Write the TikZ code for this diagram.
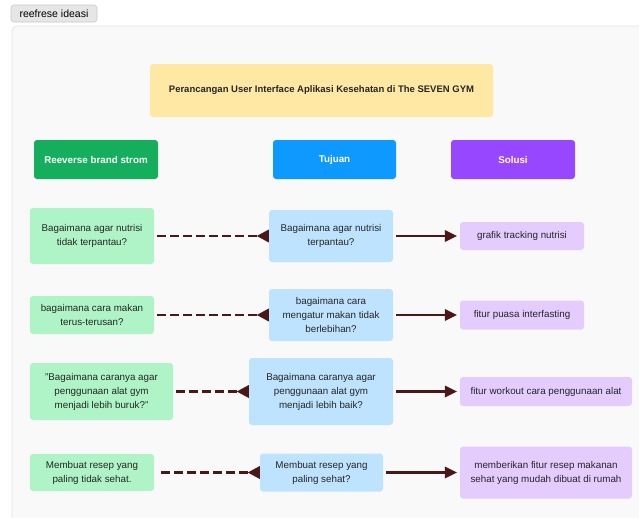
\documentclass[tikz,border=0pt]{standalone}
\usepackage{fontspec}
\setmainfont{Liberation Sans}
\usetikzlibrary{arrows.meta}
\definecolor{panelbg}{HTML}{F9F9F9}
\definecolor{panelline}{HTML}{E3E3E3}
\definecolor{tagbg}{HTML}{E6E6E6}
\definecolor{tagline}{HTML}{C8C8C8}
\definecolor{titlebg}{HTML}{FFE8A3}
\definecolor{hgreen}{HTML}{14AE5C}
\definecolor{hblue}{HTML}{0D99FF}
\definecolor{hpurple}{HTML}{9747FF}
\definecolor{lgreen}{HTML}{AFF4C6}
\definecolor{lblue}{HTML}{BDE3FF}
\definecolor{lpurple}{HTML}{E4CCFF}
\definecolor{txt}{HTML}{262626}
\definecolor{arr}{HTML}{4A1818}
\tikzset{
  card/.style={rounded corners=3pt, align=center, inner sep=0pt, text=txt,
    font=\fontsize{9.8}{14}\selectfont},
  header/.style={card, text=white, font=\fontsize{9.8}{12}\selectfont\bfseries},
  dasharrow/.style={draw=arr, line width=2.5pt, dash pattern=on 8.5pt off 4.5pt,
    {Triangle[reversed,length=12pt,width=13pt,line width=0pt]}-, shorten >=3pt},
  solidarrow/.style={draw=arr, line width=2.3pt,
    -{Triangle[length=12pt,width=12pt,line width=0pt]}, shorten <=3pt, shorten >=3pt}
}
\begin{document}
\begin{tikzpicture}[x=1pt,y=-1pt]
\useasboundingbox (0,0) rectangle (639,517);
\fill[white] (0,0) rectangle (639,517);
% panel
\draw[fill=panelbg, draw=panelline, line width=0.8pt, rounded corners=5pt] (12,26) rectangle (660,540);
% tag
\node[draw=tagline, fill=tagbg, rounded corners=3pt, line width=0.6pt, minimum width=86pt, minimum height=17pt, inner sep=0pt,
  font=\fontsize{10.5}{12}\selectfont, text=black] (tag) at (54,13.5) {reefrese ideasi};
% title
\node[card, fill=titlebg, minimum width=343pt, minimum height=53pt, font=\fontsize{9.5}{12}\selectfont\bfseries] (title) at (321.5,90.5)
  {Perancangan User Interface Aplikasi Kesehatan di The SEVEN GYM};
% headers
\node[header, fill=hgreen, minimum width=124pt, minimum height=39pt] (hg) at (96,159.5) {Reeverse brand strom};
\node[header, fill=hblue, minimum width=123pt, minimum height=39pt] (hb) at (334.5,159.5) {Tujuan};
\node[header, fill=hpurple, minimum width=124pt, minimum height=39pt] (hp) at (513,159.5) {Solusi};
% row 1
\node[card, fill=lgreen, minimum width=124pt, minimum height=56pt] (g1) at (92,236) {Bagaimana agar nutrisi\\tidak terpantau?};
\node[card, fill=lblue, minimum width=124pt, minimum height=52pt] (b1) at (331,236) {Bagaimana agar nutrisi\\terpantau?};
\node[card, fill=lpurple, minimum width=124pt, minimum height=28pt] (p1) at (522,236) {grafik tracking nutrisi};
% row 2
\node[card, fill=lgreen, minimum width=124pt, minimum height=38pt] (g2) at (92,315) {bagaimana cara makan\\terus-terusan?};
\node[card, fill=lblue, minimum width=124pt, minimum height=52pt] (b2) at (331,315) {bagaimana cara\\mengatur makan tidak\\berlebihan?};
\node[card, fill=lpurple, minimum width=124pt, minimum height=29pt] (p2) at (522,315) {fitur puasa interfasting};
% row 3
\node[card, fill=lgreen, minimum width=143pt, minimum height=57pt] (g3) at (101.5,391.5) {"Bagaimana caranya agar\\penggunaan alat gym\\menjadi lebih buruk?"};
\node[card, fill=lblue, minimum width=144pt, minimum height=67pt] (b3) at (321,391.5) {Bagaimana caranya agar\\penggunaan alat gym\\menjadi lebih baik?};
\node[card, fill=lpurple, minimum width=172pt, minimum height=29pt] (p3) at (546,391.5) {fitur workout cara penggunaan alat};
% row 4
\node[card, fill=lgreen, minimum width=124pt, minimum height=37pt] (g4) at (92,472.5) {Membuat resep yang\\paling tidak sehat.};
\node[card, fill=lblue, minimum width=123pt, minimum height=38pt] (b4) at (321.5,472.5) {Membuat resep yang\\paling sehat?};
\node[card, fill=lpurple, minimum width=172pt, minimum height=52pt] (p4) at (546,472.5) {memberikan fitur resep makanan\\sehat yang mudah dibuat di rumah};
% connectors
\foreach \i in {1,2,3,4}{
  \draw[dasharrow] (b\i.west) -- (g\i.east);
  \draw[solidarrow] (b\i.east) -- (p\i.west);
}
\end{tikzpicture}
\end{document}
